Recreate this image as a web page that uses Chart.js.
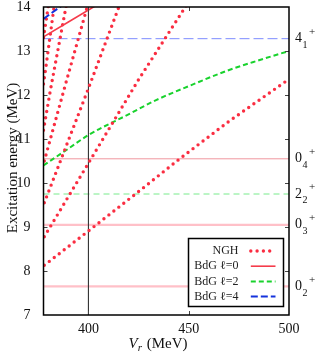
<!DOCTYPE html>
<html>
<head>
<meta charset="utf-8">
<script src="https://cdn.jsdelivr.net/npm/chart.js@4.4.1/dist/chart.umd.min.js"></script>
<style>
  html, body { margin: 0; padding: 0; background: #fff; }
  #wrap { width: 318px; height: 354px; }
</style>
</head>
<body>
<div id="wrap"><canvas id="levelsChart" width="318" height="354"></canvas></div>
<script>
(function () {
  'use strict';

  // axes (MeV)
  const xMin = 377.6;
  const xMax = 500;
  const xTicks = [400, 450, 500];
  const yTicks = [7, 8, 9, 10, 11, 12, 13, 14];

  // NGH levels (dotted)
  const ngh1Vr = [378, 400, 423.5, 445.5, 470, 500];
  const ngh1E = [8.13, 8.91, 9.75, 10.55, 11.4, 12.36];
  const ngh2Vr = [378, 400, 425, 450];
  const ngh2E = [8.78, 10.45, 12.35, 14.12];
  const ngh3Vr = [378, 400, 416];
  const ngh3E = [9.55, 12.15, 14.1];
  const ngh4Vr = [378, 388, 400];
  const ngh4E = [10.5, 12.15, 14.1];
  const ngh5Vr = [377.6, 381, 389];
  const ngh5E = [11.2, 12.1, 14.05];
  const ngh6Vr = [377.6, 379, 383];
  const ngh6E = [12.25, 12.7, 14.05];
  const ngh7Vr = [377.6, 380];
  const ngh7E = [13.3, 14.02];

  // BdG levels
  const bdg0Vr = [377.6, 390, 404];
  const bdg0E = [13.32, 13.66, 14.04];
  const bdg2Vr = [377.6, 390, 400, 420, 434, 450, 469, 485, 500];
  const bdg2E = [10.4, 10.78, 11.09, 11.56, 11.89, 12.2, 12.55, 12.79, 13.0];
  const bdg4Vr = [377.6, 387];
  const bdg4E = [13.73, 14.04];

  // experimental states, labelled on the right axis
  const levelE = [13.28, 10.55, 9.75, 9.05, 7.65];
  const levelJ = ['4', '0', '2', '0', '0'];
  const levelN = ['1', '4', '2', '3', '2'];

  const markVr = 400;

  const font = "'Liberation Serif', serif";
  const red = 'rgb(250, 45, 65)';

  function pts(vr, e) {
    return vr.map((v, i) => ({ x: v, y: e[i] }));
  }

  function curve(label, vr, e, style) {
    return Object.assign({
      label: label,
      data: pts(vr, e),
      pointRadius: 0,
      fill: false,
      tension: 0
    }, style);
  }

  const dotted = {
    borderColor: red,
    borderWidth: 3.4,
    borderDash: [0, 6.3],
    borderCapStyle: 'round',
    order: 2
  };

  const levelStyle = {
    '4': { borderColor: 'rgb(125, 140, 255)', borderWidth: 1, borderDash: [10, 4] },
    '2': { borderColor: 'rgb(120, 235, 140)', borderWidth: 1, borderDash: [6, 4] }
  };

  function levelDatasets() {
    return levelE.map((e, i) => {
      let style = levelStyle[levelJ[i]];
      if (!style) {
        style = levelN[i] === '4'
          ? { borderColor: 'rgb(240, 150, 158)', borderWidth: 1 }
          : { borderColor: 'rgb(255, 192, 200)', borderWidth: 2.2 };
      }
      return curve('', [xMin, xMax], [e, e], Object.assign({ order: 5 }, style));
    });
  }

  const datasets = [
    curve('NGH', ngh1Vr, ngh1E, Object.assign({ legend: true }, dotted)),
    curve('', ngh2Vr, ngh2E, dotted),
    curve('', ngh3Vr, ngh3E, dotted),
    curve('', ngh4Vr, ngh4E, dotted),
    curve('', ngh5Vr, ngh5E, dotted),
    curve('', ngh6Vr, ngh6E, dotted),
    curve('', ngh7Vr, ngh7E, dotted),
    curve('BdG \u2113=0', bdg0Vr, bdg0E, {
      legend: true, borderColor: 'rgb(245, 60, 75)', borderWidth: 1.6, order: 1
    }),
    curve('BdG \u2113=2', bdg2Vr, bdg2E, {
      legend: true, borderColor: 'rgb(25, 210, 45)', borderWidth: 2, borderDash: [5, 3],
      cubicInterpolationMode: 'monotone', order: 3
    }),
    curve('BdG \u2113=4', bdg4Vr, bdg4E, {
      legend: true, borderColor: 'rgb(20, 50, 220)', borderWidth: 2, borderDash: [7, 3], order: 1
    }),
    curve('', [markVr, markVr], [yTicks[0], yTicks[yTicks.length - 1]], {
      borderColor: '#333', borderWidth: 1.1, order: 4
    })
  ].concat(levelDatasets());

  function strokeSample(ctx, ds, x0, x1, y) {
    ctx.save();
    ctx.strokeStyle = ds.borderColor;
    ctx.lineWidth = ds.borderWidth;
    ctx.lineCap = ds.borderCapStyle || 'butt';
    ctx.setLineDash(ds.borderDash || []);
    ctx.beginPath();
    ctx.moveTo(x0, y);
    ctx.lineTo(x1, y);
    ctx.stroke();
    ctx.restore();
  }

  function drawLegend(chart) {
    const ctx = chart.ctx;
    const area = chart.chartArea;
    const right = area.right - 5.5;
    const bottom = area.bottom - 8.5;
    const left = right - 95;
    const top = bottom - 68;

    ctx.save();
    ctx.fillStyle = '#fff';
    ctx.fillRect(left, top, right - left, bottom - top);
    ctx.strokeStyle = '#000';
    ctx.lineWidth = 1.5;
    ctx.strokeRect(left, top, right - left, bottom - top);

    ctx.font = '12px ' + font;
    ctx.fillStyle = '#222';
    ctx.textAlign = 'right';
    ctx.textBaseline = 'middle';
    chart.data.datasets.filter(ds => ds.legend).forEach((ds, i) => {
      const y = top + 12.5 + i * 15.2;
      ctx.fillText(ds.label, left + 50, y);
      strokeSample(ctx, ds, left + 62.3, left + 87, y);
    });
    ctx.restore();
  }

  function drawFrame(chart) {
    const ctx = chart.ctx;
    const area = chart.chartArea;
    const xs = chart.scales.x;
    const ys = chart.scales.y;
    const len = 4;

    ctx.save();
    ctx.strokeStyle = '#444';
    ctx.lineWidth = 1;
    ctx.beginPath();
    yTicks.slice(1, -1).forEach(v => {
      const y = Math.round(ys.getPixelForValue(v)) + 0.5;
      ctx.moveTo(area.left, y); ctx.lineTo(area.left + len, y);
      ctx.moveTo(area.right, y); ctx.lineTo(area.right - len, y);
    });
    xTicks.slice(0, -1).forEach(v => {
      const x = Math.round(xs.getPixelForValue(v)) + 0.5;
      ctx.moveTo(x, area.bottom); ctx.lineTo(x, area.bottom - len);
      ctx.moveTo(x, area.top); ctx.lineTo(x, area.top + len);
    });
    ctx.stroke();

    ctx.strokeStyle = '#000';
    ctx.lineWidth = 1.5;
    ctx.strokeRect(area.left, area.top, area.right - area.left, area.bottom - area.top);
    ctx.restore();
  }

  function drawLevelLabels(chart) {
    const ctx = chart.ctx;
    const ys = chart.scales.y;
    const x0 = chart.chartArea.right + 6;

    ctx.save();
    ctx.fillStyle = '#111';
    ctx.textAlign = 'left';
    ctx.textBaseline = 'middle';
    levelE.forEach((e, i) => {
      const y = ys.getPixelForValue(e);
      ctx.font = '14px ' + font;
      ctx.fillText(levelJ[i], x0, y);
      const w = ctx.measureText(levelJ[i]).width;
      ctx.font = '10px ' + font;
      ctx.fillText(levelN[i], x0 + w + 0.5, y + 6.5);
      ctx.font = '11px ' + font;
      ctx.fillText('+', x0 + w + 7, y - 6.5);
    });
    ctx.restore();
  }

  function drawTitles(chart) {
    const ctx = chart.ctx;
    ctx.save();
    ctx.fillStyle = '#111';
    ctx.textBaseline = 'alphabetic';

    // x title: V_r (MeV)
    const rest = ' (MeV)';
    ctx.font = 'italic 15px ' + font;
    const wV = ctx.measureText('V').width;
    ctx.font = 'italic 11px ' + font;
    const wR = ctx.measureText('r').width;
    ctx.font = '15px ' + font;
    const wRest = ctx.measureText(rest).width;
    let x = 158 - (wV + wR + 1 + wRest) / 2;
    ctx.textAlign = 'left';
    ctx.font = 'italic 15px ' + font;
    ctx.fillText('V', x, 347.5);
    x += wV;
    ctx.font = 'italic 11px ' + font;
    ctx.fillText('r', x, 350.5);
    x += wR + 1;
    ctx.font = '15px ' + font;
    ctx.fillText(rest, x, 347.5);

    // y title
    ctx.translate(17, 158);
    ctx.rotate(-Math.PI / 2);
    ctx.textAlign = 'center';
    ctx.font = '15px ' + font;
    ctx.fillText('Excitation energy (MeV)', 0, 0);
    ctx.restore();
  }

  const framePlugin = {
    id: 'frame',
    afterDatasetsDraw(chart) {
      drawLegend(chart);
    },
    afterDraw(chart) {
      drawFrame(chart);
      drawLevelLabels(chart);
      drawTitles(chart);
    }
  };

  const tickFont = { family: font, size: 14 };

  const ctx = document.getElementById('levelsChart').getContext('2d');
  new Chart(ctx, {
    type: 'line',
    data: { datasets: datasets },
    options: {
      responsive: false,
      animation: false,
      devicePixelRatio: 1,
      events: [],
      layout: { padding: { top: 7, right: 0, bottom: 0, left: 0 } },
      plugins: {
        legend: { display: false },
        tooltip: { enabled: false }
      },
      scales: {
        x: {
          type: 'linear',
          min: xMin,
          max: xMax,
          afterBuildTicks: s => { s.ticks = xTicks.map(v => ({ value: v })); },
          ticks: { font: tickFont, color: '#111', padding: 6, maxRotation: 0 },
          grid: { drawOnChartArea: false, drawTicks: false },
          border: { display: false },
          afterFit: s => { s.height = 39; s.paddingLeft = 0; s.paddingRight = 0; }
        },
        y: {
          type: 'linear',
          position: 'left',
          min: yTicks[0],
          max: yTicks[yTicks.length - 1],
          afterBuildTicks: s => { s.ticks = yTicks.map(v => ({ value: v })); },
          ticks: { font: tickFont, color: '#111', padding: 13 },
          grid: { drawOnChartArea: false, drawTicks: false },
          border: { display: false },
          afterFit: s => { s.width = 43.5; s.paddingTop = 0; s.paddingBottom = 0; }
        },
        y2: {
          type: 'linear',
          position: 'right',
          min: yTicks[0],
          max: yTicks[yTicks.length - 1],
          ticks: { display: false },
          grid: { display: false, drawTicks: false },
          border: { display: false },
          afterFit: s => { s.width = 29; s.paddingTop = 0; s.paddingBottom = 0; }
        }
      }
    },
    plugins: [framePlugin]
  });
})();
</script>
</body>
</html>
